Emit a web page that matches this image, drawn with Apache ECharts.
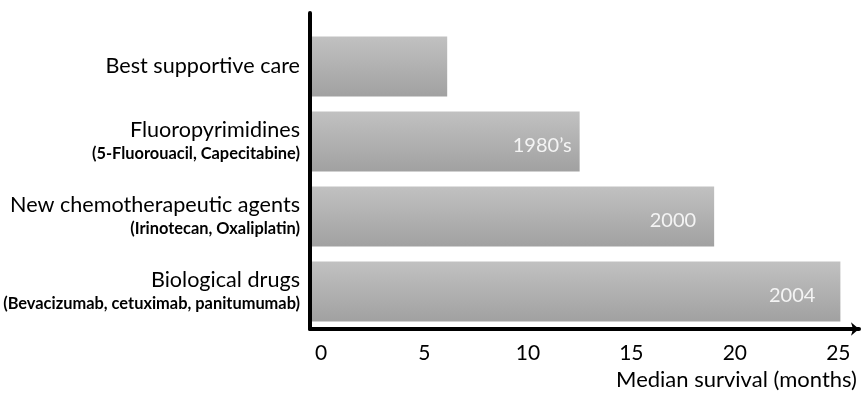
<!DOCTYPE html>
<html>
<head>
<meta charset="utf-8">
<script src="https://cdn.jsdelivr.net/npm/echarts@6/dist/echarts.min.js"></script>
<style>
  html, body { margin: 0; padding: 0; background: #ffffff; }
  #chart { width: 863px; height: 398px; }
</style>
</head>
<body>
<div id="chart"></div>
<script>
// Treatment eras in metastatic colorectal cancer and their median survival
const categories = ['Best supportive care', 'Fluoropyrimidines', 'New chemotherapeutic agents', 'Biological drugs'];
const agents = ['', '(5-Fluorouacil, Capecitabine)', '(Irinotecan, Oxaliplatin)', '(Bevacizumab, cetuximab, panitumumab)'];
const medianSurvival = [6.1, 12.5, 19.0, 25.1];
const eraLabels = ['', '1980\u2019s', '2000', '2004'];
const xTickLabels = [0, 5, 10, 15, 20, 25];

// axis range: the bars grow out of the left axis line, which sits just before 0
const X_MIN = -0.53;
const X_MAX = 26;
const FONT = 'Lato, "Open Sans", sans-serif';
// how far each era label sits in from the end of its bar
const eraInset = [0, 8, 18, 25];

const chart = echarts.init(document.getElementById('chart'), null, { renderer: 'canvas' });

const barData = medianSurvival.map((v, i) => [v, i]);

chart.setOption({
  animation: false,
  backgroundColor: '#ffffff',
  grid: [
    { left: 310, right: 4, top: 29, bottom: 69, containLabel: false, outerBoundsMode: 'none' },
    { left: 310, right: 4, top: 13, bottom: 69, containLabel: false, outerBoundsMode: 'none' }
  ],
  xAxis: [
    {
      gridIndex: 0,
      type: 'value',
      min: X_MIN,
      max: X_MAX,
      splitLine: { show: false },
      axisTick: { show: false },
      axisLine: {
        show: true,
        symbol: ['none', 'arrow'],
        symbolSize: [10, 8],
        lineStyle: { color: '#000000', width: 4 }
      },
      axisLabel: {
        margin: 14,
        fontFamily: FONT,
        fontSize: 21,
        color: '#000000',
        showMinLabel: false,
        showMaxLabel: false,
        formatter: v => (xTickLabels.indexOf(Math.round(v * 100) / 100) >= 0 ? String(v) : '')
      },
      // axis title sits under the right-hand part of the axis
      name: 'Median survival (months)',
      nameLocation: 'middle',
      nameGap: 39,
      nameTextStyle: {
        fontFamily: FONT,
        fontSize: 22,
        color: '#000000',
        align: 'center',
        verticalAlign: 'top',
        padding: [0, 0, 0, 304]
      },
      z: 5
    },
    { gridIndex: 1, type: 'value', show: false }
  ],
  yAxis: [
    {
      gridIndex: 0,
      type: 'category',
      inverse: true,
      data: categories,
      axisLine: { show: false },
      axisTick: { show: false },
      splitLine: { show: false },
      axisLabel: {
        margin: 10,
        align: 'right',
        formatter: (value, idx) => agents[idx]
          ? '{main|' + value + '}\n{sub|' + agents[idx] + '}'
          : '{main|' + value + '}',
        rich: {
          main: { fontFamily: FONT, fontSize: 21.6, lineHeight: 24, color: '#000000', align: 'right' },
          sub: { fontFamily: FONT, fontSize: 16.4, fontWeight: 'bold', lineHeight: 22, color: '#000000', align: 'right' }
        }
      }
    },
    {
      gridIndex: 1,
      type: 'value',
      axisLabel: { show: false },
      axisTick: { show: false },
      splitLine: { show: false },
      axisLine: { show: true, lineStyle: { color: '#000000', width: 4 } },
      z: 5
    }
  ],
  series: [
    {
      type: 'custom',
      xAxisIndex: 0,
      yAxisIndex: 0,
      encode: { x: 0, y: 1 },
      data: barData,
      renderItem: (params, api) => {
        const cat = api.value(1);
        const end = api.coord([api.value(0), cat]);
        const start = api.coord([X_MIN, cat]);
        const band = api.size([0, 1])[1];
        const h = band * 0.8;
        const idx = params.dataIndex;
        const children = [{
          type: 'rect',
          shape: { x: start[0], y: end[1] - h / 2, width: end[0] - start[0], height: h },
          style: {
            fill: new echarts.graphic.LinearGradient(0, 0, 0, 1, [
              { offset: 0, color: '#c1c1c1' },
              { offset: 1, color: '#a1a1a1' }
            ])
          }
        }];
        if (eraLabels[idx]) {
          children.push({
            type: 'text',
            style: {
              text: eraLabels[idx],
              x: end[0] - eraInset[idx],
              y: end[1] + 4,
              fill: '#f4f4f4',
              font: '20px ' + FONT,
              align: 'right',
              verticalAlign: 'middle'
            }
          });
        }
        return { type: 'group', children: children };
      }
    }
  ]
});
</script>
</body>
</html>
